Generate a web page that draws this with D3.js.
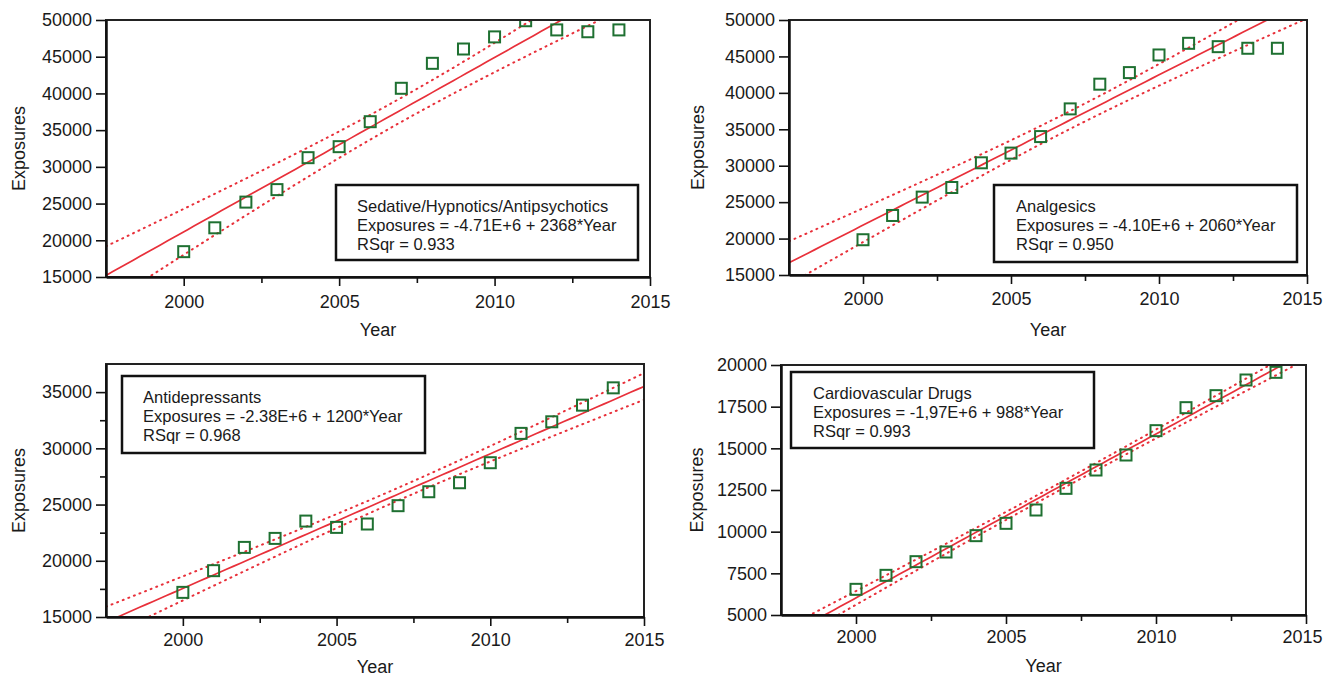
<!DOCTYPE html>
<html>
<head>
<meta charset="utf-8">
<script src="https://cdn.jsdelivr.net/npm/d3@7"></script>
<style>
  body { margin: 0; background: #fff; }
  text { font-family: "Liberation Sans", Arial, sans-serif; fill: #1a1a1a; }
</style>
</head>
<body>
<script>
//Declare consts/global variables
const width = 1325;
const height = 677;
const tCrit = 2.160; // t(0.975, df = 13)

//Data
const years = [2000, 2001, 2002, 2003, 2004, 2005, 2006, 2007, 2008, 2009, 2010, 2011, 2012, 2013, 2014];
const sedativeExposures = [18450, 21700, 25200, 26900, 31250, 32750, 36150, 40700, 44100, 46050, 47700, 49900, 48650, 48400, 48650];
const analgesicExposures = [19840, 23170, 25690, 27010, 30400, 31730, 34000, 37800, 41190, 42780, 45200, 46800, 46340, 46120, 46120];
const antidepressantExposures = [17190, 19120, 21190, 21990, 23530, 22970, 23270, 24900, 26140, 26940, 28720, 31330, 32360, 33840, 35380];
const cardioExposures = [6540, 7380, 8200, 8780, 9760, 10500, 11300, 12600, 13700, 14600, 16060, 17440, 18160, 19100, 19560];

const xTicks = [2000, 2005, 2010, 2015];
const xMinorTicks = [2002.5, 2007.5, 2012.5];
const ticks50k = [15000, 20000, 25000, 30000, 35000, 40000, 45000, 50000];
const ticksAntidep = [15000, 20000, 25000, 30000, 35000];
const minorAntidep = [17500, 22500, 27500, 32500];
const ticksCardio = [5000, 7500, 10000, 12500, 15000, 17500, 20000];

const legendSedative = ["Sedative/Hypnotics/Antipsychotics", "Exposures = -4.71E+6 + 2368*Year", "RSqr = 0.933"];
const legendAnalgesic = ["Analgesics", "Exposures = -4.10E+6 + 2060*Year", "RSqr = 0.950"];
const legendAntidep = ["Antidepressants", "Exposures = -2.38E+6 + 1200*Year", "RSqr = 0.968"];
const legendCardio = ["Cardiovascular Drugs", "Exposures = -1,97E+6 + 988*Year", "RSqr = 0.993"];

//Layout of the four panels
const panels = [
  {values: sedativeExposures, legend: legendSedative, left: 106, right: 650, top: 20, bottom: 277,
   yDomain: [15000, 50000], yTicks: ticks50k, yMinor: [], xPad: 9, titleX: 24.5, titleY: 336, lastDx: 0,
   box: {x: 336, y: 185, w: 302, h: 75}, textX: 357, lines: [212, 231, 249.5]},
  {values: analgesicExposures, legend: legendAnalgesic, left: 789, right: 1307, top: 20, bottom: 275,
   yDomain: [15000, 50000], yTicks: ticks50k, yMinor: [], xPad: 8, titleX: 704, titleY: 336, lastDx: -5,
   box: {x: 994, y: 185, w: 303, h: 77}, textX: 1016, lines: [212, 231, 249.5]},
  {values: antidepressantExposures, legend: legendAntidep, left: 106, right: 644, top: 364, bottom: 617,
   yDomain: [15000, 37500], yTicks: ticksAntidep, yMinor: minorAntidep, xPad: 7.5, titleX: 24.5, titleY: 673, lastDx: 0,
   box: {x: 122, y: 376, w: 303, h: 77}, textX: 143, lines: [403, 422, 441]},
  {values: cardioExposures, legend: legendCardio, left: 781, right: 1306, top: 365, bottom: 615,
   yDomain: [5000, 20000], yTicks: ticksCardio, yMinor: [], xPad: 6, titleX: 703, titleY: 672, lastDx: -4,
   box: {x: 791, y: 372, w: 303, h: 76}, textX: 813, lines: [399, 418, 437]}
];

//least squares fit with 95% band for the mean
function fit(xs, ys) {
  const n = xs.length;
  const mx = d3.mean(xs), my = d3.mean(ys);
  const sxx = d3.sum(xs, x => (x - mx) * (x - mx));
  const sxy = d3.sum(xs, (x, i) => (x - mx) * (ys[i] - my));
  const slope = sxy / sxx;
  const icpt = my - slope * mx;
  const sse = d3.sum(xs, (x, i) => Math.pow(ys[i] - (icpt + slope * x), 2));
  const s = Math.sqrt(sse / (n - 2));
  return {
    at: x => icpt + slope * x,
    half: x => tCrit * s * Math.sqrt(1 / n + (x - mx) * (x - mx) / sxx)
  };
}

//SVG
const svg = d3.select("body")
              .append("svg")
              .attr("width", width)
              .attr("height", height);

panels.forEach((p, i) => {
  const xScale = d3.scaleLinear()
                   .domain([1997.5, 2015])
                   .range([p.left, p.right]);
  const yScale = d3.scaleLinear()
                   .domain(p.yDomain)
                   .range([p.bottom, p.top]);

  const g = svg.append("g");

  g.append("clipPath")
   .attr("id", "clip" + i)
   .append("rect")
   .attr("x", p.left).attr("y", p.top)
   .attr("width", p.right - p.left).attr("height", p.bottom - p.top);

  const plot = g.append("g").attr("clip-path", "url(#clip" + i + ")");

  //regression line and band
  const f = fit(years, p.values);
  const xs = d3.range(0, 81).map(k => 1997.5 + k * 17.5 / 80);

  const line = d3.line().x(d => xScale(d.x)).y(d => yScale(d.y));

  plot.append("path")
      .attr("d", line(xs.map(x => ({x: x, y: f.at(x)}))))
      .attr("fill", "none").attr("stroke", "#e8303a").attr("stroke-width", 1.7);

  [1, -1].forEach(sign => {
    plot.append("path")
        .attr("d", line(xs.map(x => ({x: x, y: f.at(x) + sign * f.half(x)}))))
        .attr("fill", "none").attr("stroke", "#e8303a").attr("stroke-width", 2)
        .attr("stroke-linecap", "round")
        .attr("stroke-dasharray", "1,5");
  });

  //points
  plot.selectAll("rect.pt")
      .data(years)
      .enter()
      .append("rect")
      .attr("class", "pt")
      .attr("x", d => xScale(d) - 5.5)
      .attr("y", (d, k) => yScale(p.values[k]) - 5.5)
      .attr("width", 11)
      .attr("height", 11)
      .attr("fill", "none")
      .attr("stroke", "#1e7031")
      .attr("stroke-width", 2);

  //frame
  g.append("rect")
   .attr("x", p.left).attr("y", p.top)
   .attr("width", p.right - p.left).attr("height", p.bottom - p.top)
   .attr("fill", "none").attr("stroke", "#222").attr("stroke-width", 2);

  //Axes
  const bottomAxis = d3.axisBottom(xScale)
                       .tickValues(xTicks)
                       .tickFormat(d3.format("d"))
                       .tickSize(9).tickSizeOuter(0)
                       .tickPadding(p.xPad);
  const bottomMinor = d3.axisBottom(xScale)
                        .tickValues(xMinorTicks)
                        .tickFormat("")
                        .tickSize(6).tickSizeOuter(0);
  const leftAxis = d3.axisLeft(yScale)
                     .tickValues(p.yTicks)
                     .tickFormat(d3.format("d"))
                     .tickSize(10).tickSizeOuter(0)
                     .tickPadding(4);
  const leftMinor = d3.axisLeft(yScale)
                      .tickValues(p.yMinor)
                      .tickFormat("")
                      .tickSize(6).tickSizeOuter(0);

  g.append("g").attr("transform", "translate(0," + p.bottom + ")").call(bottomMinor);
  g.append("g").attr("transform", "translate(" + p.left + ",0)").call(leftMinor);
  const xAxisG = g.append("g").attr("transform", "translate(0," + p.bottom + ")").call(bottomAxis);
  g.append("g").attr("transform", "translate(" + p.left + ",0)").call(leftAxis);

  g.selectAll(".domain").attr("stroke", "#111").attr("stroke-width", 2);
  g.selectAll(".tick line").attr("stroke", "#111").attr("stroke-width", 1.6);
  g.selectAll(".tick text").style("font-size", "18px").attr("fill", "#1a1a1a");
  xAxisG.selectAll(".tick text").filter(d => d === 2015).attr("dx", p.lastDx);

  //axis titles
  g.append("text")
   .attr("x", (p.left + p.right) / 2)
   .attr("y", p.titleY)
   .attr("text-anchor", "middle")
   .style("font-size", "18px")
   .text("Year");

  g.append("text")
   .attr("transform", "translate(" + p.titleX + "," + ((p.top + p.bottom) / 2) + ") rotate(-90)")
   .attr("text-anchor", "middle")
   .style("font-size", "18px")
   .text("Exposures");

  //legend box
  g.append("rect")
   .attr("x", p.box.x).attr("y", p.box.y)
   .attr("width", p.box.w).attr("height", p.box.h)
   .attr("fill", "#fff").attr("stroke", "#111").attr("stroke-width", 2.5);

  g.selectAll("text.leg")
   .data(p.legend)
   .enter()
   .append("text")
   .attr("class", "leg")
   .attr("x", p.textX)
   .attr("y", (d, k) => p.lines[k])
   .style("font-size", "16.5px")
   .text(d => d);
});
</script>
</body>
</html>
